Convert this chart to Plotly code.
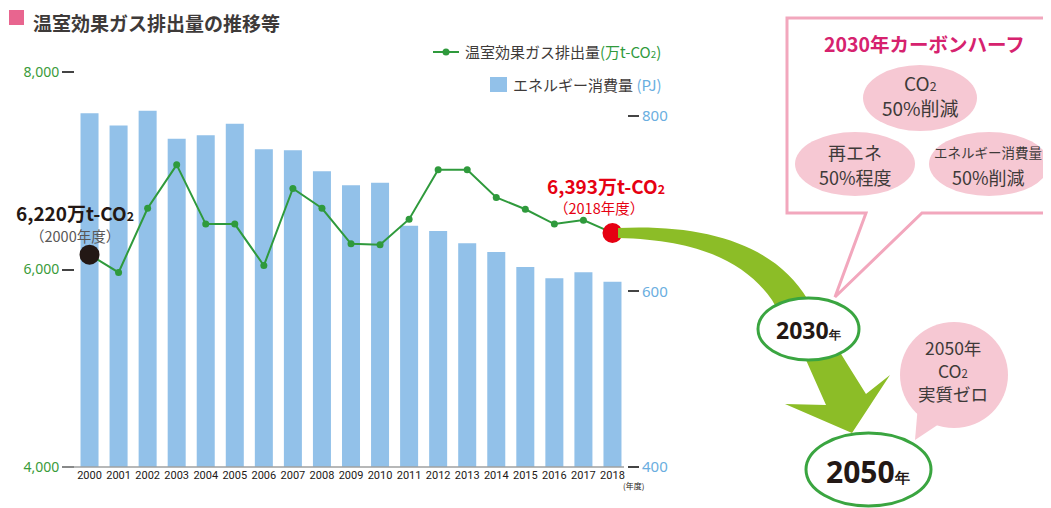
import plotly.graph_objects as go

# ---------------- data ----------------
years = ["2000", "2001", "2002", "2003", "2004", "2005", "2006", "2007", "2008", "2009",
         "2010", "2011", "2012", "2013", "2014", "2015", "2016", "2017", "2018"]
emissions = [6150, 5970, 6620, 7060, 6460, 6460, 6040, 6820, 6620, 6260,
             6250, 6510, 7010, 7010, 6730, 6610, 6460, 6500, 6370]   # 万t-CO2 (left axis)
energy = [803, 789, 806, 774, 778, 791, 762, 761, 737, 721,
          724, 675, 669, 655, 645, 628, 615, 622, 611]             # PJ (right axis)
left_ticks = [4000, 6000, 8000]
left_ticktext = ["4,000", "6,000", "8,000"]
right_ticks = [400, 600, 800]

# ---------------- geometry helpers (screen pixels) ----------------
SCREEN_W, SCREEN_H = 1051, 508
OFF = 8                      # page body margin
W, H = SCREEN_W - OFF, SCREEN_H - OFF
L, R, T, B = 75, 627, 72, 467   # plot area in screen pixels


def px(x):
    return (x - L) / (R - L)


def py(y):
    return (B - y) / (B - T)


def path(points, close=True):
    s = "M " + " L ".join(f"{px(x):.5f},{py(y):.5f}" for x, y in points)
    return s + (" Z" if close else "")


GREEN = "#2f9a3c"
BLUE = "#92c1e9"
PINK_LINE = "#f2a7bd"
PINK_FILL = "#f6c8d3"
JP = "Noto Sans CJK JP, Noto Sans, sans-serif"
SUB2 = "<span style='font-size:0.65em'>2</span>"

fig = go.Figure()

fig.add_trace(go.Bar(
    x=years, y=energy, yaxis="y", marker=dict(color=BLUE, line=dict(width=0)),
    name="エネルギー消費量", showlegend=False,
))

n = len(years)
sizes = [20] + [7] * (n - 2) + [20]
colors = ["#231815"] + [GREEN] * (n - 2) + ["#e60012"]
fig.add_trace(go.Scatter(
    x=years, y=emissions, yaxis="y2", mode="lines+markers",
    line=dict(color=GREEN, width=2),
    marker=dict(size=sizes, color=colors, opacity=1, line=dict(width=0)),
    name="温室効果ガス排出量", showlegend=False,
))

shapes = []
# x baseline (extends a little left of the plot like the original)
shapes.append(dict(type="line", xref="paper", yref="paper",
                   x0=px(62), x1=px(624), y0=py(467), y1=py(467),
                   line=dict(color="#9fa0a0", width=1.5)))
# title square
shapes.append(dict(type="rect", xref="paper", yref="paper",
                   x0=px(9), x1=px(24), y0=py(25), y1=py(10),
                   fillcolor="#e8658f", line=dict(width=0)))
# legend: line
shapes.append(dict(type="line", xref="paper", yref="paper",
                   x0=px(433), x1=px(459), y0=py(52), y1=py(52),
                   line=dict(color=GREEN, width=2)))
shapes.append(dict(type="circle", xref="paper", yref="paper",
                   x0=px(442.5), x1=px(449.5), y0=py(55.5), y1=py(48.5),
                   fillcolor=GREEN, line=dict(width=0)))
# legend: bar
shapes.append(dict(type="rect", xref="paper", yref="paper",
                   x0=px(490), x1=px(507), y0=py(92), y1=py(77),
                   fillcolor=BLUE, line=dict(width=0)))

# pink box with tail (2030 carbon half)
shapes.append(dict(type="path", xref="paper", yref="paper",
                   path=path([(787, 18), (1065, 18), (1065, 213), (922, 213),
                              (835, 297), (866, 213), (787, 213)]),
                   fillcolor="white", line=dict(color=PINK_LINE, width=3)))
# pink ellipses inside the box
for cx, cy, rx, ry in [(920, 98, 57, 33), (855, 164, 60, 32), (989, 164, 60, 32)]:
    shapes.append(dict(type="circle", xref="paper", yref="paper",
                       x0=px(cx - rx), x1=px(cx + rx), y0=py(cy + ry), y1=py(cy - ry),
                       fillcolor=PINK_FILL, line=dict(width=0)))

# green curved arrow
arrow = (f"M {px(618):.5f},{py(228):.5f} "
         f"C {px(705):.5f},{py(224):.5f} {px(775):.5f},{py(244):.5f} {px(808):.5f},{py(300):.5f} "
         f"L {px(846):.5f},{py(362):.5f} L {px(866):.5f},{py(394):.5f} "
         f"L {px(890):.5f},{py(375):.5f} L {px(852):.5f},{py(433):.5f} "
         f"L {px(785):.5f},{py(404):.5f} L {px(826):.5f},{py(405):.5f} "
         f"L {px(806):.5f},{py(360):.5f} L {px(772):.5f},{py(300):.5f} "
         f"C {px(745):.5f},{py(262):.5f} {px(700):.5f},{py(240):.5f} {px(618):.5f},{py(238):.5f} Z")
shapes.append(dict(type="path", xref="paper", yref="paper", path=arrow,
                   fillcolor="#8cbd27", line=dict(width=0)))

# 2030 ellipse
shapes.append(dict(type="circle", xref="paper", yref="paper",
                   x0=px(758), x1=px(859), y0=py(360), y1=py(298),
                   fillcolor="white", line=dict(color="#3aa540", width=3)))
# 2050 pink bubble with tail
shapes.append(dict(type="path", xref="paper", yref="paper",
                   path=path([(918, 405), (915, 440), (945, 420)]),
                   fillcolor=PINK_FILL, line=dict(width=0)))
shapes.append(dict(type="circle", xref="paper", yref="paper",
                   x0=px(900), x1=px(1008), y0=py(428), y1=py(322),
                   fillcolor=PINK_FILL, line=dict(width=0)))
# 2050 ellipse
shapes.append(dict(type="circle", xref="paper", yref="paper",
                   x0=px(806), x1=px(931), y0=py(506), y1=py(433),
                   fillcolor="white", line=dict(color="#3aa540", width=3)))

annotations = []


def ann(x, y, text, size, color="#333333", xanchor="center", family=JP, **kw):
    annotations.append(dict(xref="paper", yref="paper", x=px(x), y=py(y), text=text,
                            showarrow=False, xanchor=xanchor, yanchor="middle",
                            font=dict(size=size, color=color, family=family), **kw))


ann(31, 22, "<b>温室効果ガス排出量の推移等</b>", 19, "#3e3a39", xanchor="left")
ann(463, 52, f"温室効果ガス排出量<span style='color:{GREEN}'>(万t-CO{SUB2})</span>",
    15, "#3e3a39", xanchor="left")
ann(511, 84, "エネルギー消費量 <span style='color:#6aaee0'>(PJ)</span>",
    15, "#3e3a39", xanchor="left")
ann(621, 485, "(年度)", 8, "#231815", xanchor="left")

ann(75, 212, f"<b>6,220万t-CO{SUB2}</b>", 19, "#231815")
ann(75, 235, "（2000年度）", 14.5, "#595757")
ann(606, 185, f"<b>6,393万t-CO{SUB2}</b>", 19, "#e60012")
ann(599, 208, "（2018年度）", 14.5, "#e60012")

ann(924, 43, "<b>2030年カーボンハーフ</b>", 19.5, "#d6226e")
ann(920, 82, f"CO{SUB2}", 19, "#3e3a39")
ann(920, 107, "50%削減", 19, "#3e3a39")
ann(855, 152, "再エネ", 18, "#3e3a39")
ann(855, 177, "50%程度", 18, "#3e3a39")
ann(988, 152, "エネルギー消費量", 13.5, "#3e3a39")
ann(988, 177, "50%削減", 18, "#3e3a39")

ann(808, 330, "<b>2030<span style='font-size:12px'>年</span></b>", 23, "#231815",
    family="Noto Sans, sans-serif")
ann(868, 471, "<b>2050<span style='font-size:15px'>年</span></b>", 30, "#231815",
    family="Noto Sans, sans-serif")
ann(953, 347, "2050年", 17.5, "#3e3a39")
ann(953, 370, f"CO{SUB2}", 17.5, "#3e3a39")
ann(953, 393, "実質ゼロ", 17.5, "#3e3a39")

fig.update_layout(
    width=W, height=H,
    margin=dict(l=L - OFF, r=SCREEN_W - R, t=T - OFF, b=SCREEN_H - B, pad=0, autoexpand=False),
    paper_bgcolor="white", plot_bgcolor="white",
    bargap=0.38,
    showlegend=False,
    xaxis=dict(type="category", range=[-0.5, n - 0.5], showline=False,
               ticks="", tickangle=0, automargin=False,
               tickfont=dict(size=11, color="#231815", family="Roboto, sans-serif"),
               showgrid=False, zeroline=False),
    yaxis=dict(side="right", range=[400, 850.1], tickvals=right_ticks, automargin=False,
               ticks="outside", ticklen=11, tickcolor="#444444", tickwidth=1.5,
               tickfont=dict(size=15, color="#6aaee0", family="Noto Sans, sans-serif"),
               showgrid=False, zeroline=False, showline=False),
    yaxis2=dict(side="left", overlaying="y", range=[4000, 8000], tickvals=left_ticks,
                ticktext=left_ticktext, automargin=False,
                ticks="outside", ticklen=12, tickcolor="#444444", tickwidth=1.5,
                tickfont=dict(size=14, color="#3a9b3a", family="Noto Sans, sans-serif"),
                showgrid=False, zeroline=False, showline=False),
    shapes=shapes,
    annotations=annotations,
)

fig.write_html("out.html")
